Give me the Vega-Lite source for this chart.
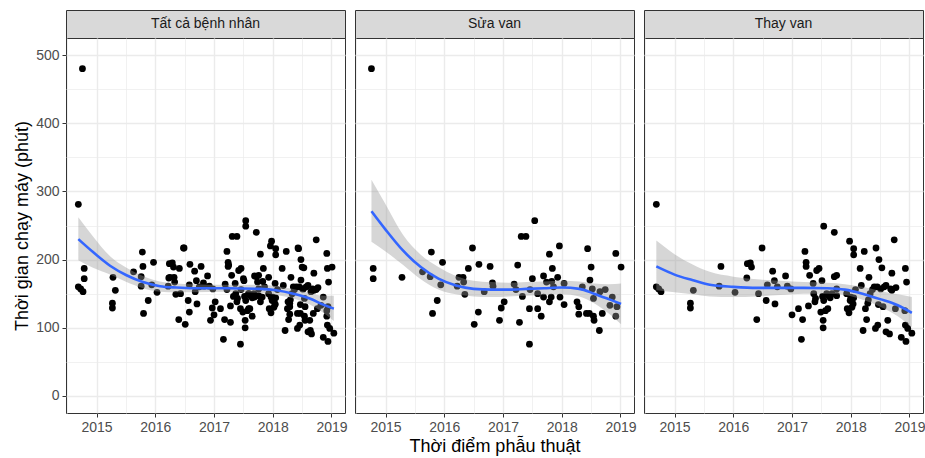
{
"$schema": "https://vega.github.io/schema/vega-lite/v6.json",
"padding": {"left": 13, "top": 9, "right": 0, "bottom": 0},
"background": "white",
"spacing": 6,
"config": {
  "font": "Liberation Sans",
  "view": {"stroke": "#333333", "strokeWidth": 1},
  "axis": {"gridColor": "#EBEBEB", "domain": false, "tickColor": "#333333", "labelColor": "#4D4D4D", "labelFontSize": 14, "titleFontSize": 18, "titleFontWeight": "normal", "titleColor": "#000000", "tickSize": 4, "labelPadding": 3, "labelFlush": false, "labelOverlap": false}
},
"datasets": {
  "pts": [
    {"t":2014.76,"phut":480,"nhom":"Sửa van"},{"t":2014.79,"phut":187,"nhom":"Sửa van"},{"t":2014.79,"phut":172,"nhom":"Sửa van"},{"t":2015.28,"phut":174,"nhom":"Sửa van"},{"t":2015.63,"phut":182,"nhom":"Sửa van"},{"t":2015.76,"phut":175,"nhom":"Sửa van"},{"t":2015.78,"phut":211,"nhom":"Sửa van"},{"t":2015.80,"phut":121,"nhom":"Sửa van"},{"t":2015.88,"phut":140,"nhom":"Sửa van"},{"t":2015.94,"phut":163,"nhom":"Sửa van"},{"t":2015.97,"phut":196,"nhom":"Sửa van"},{"t":2016.22,"phut":161,"nhom":"Sửa van"},{"t":2016.25,"phut":174,"nhom":"Sửa van"},{"t":2016.32,"phut":174,"nhom":"Sửa van"},{"t":2016.33,"phut":167,"nhom":"Sửa van"},{"t":2016.35,"phut":149,"nhom":"Sửa van"},{"t":2016.41,"phut":187,"nhom":"Sửa van"},{"t":2016.48,"phut":217,"nhom":"Sửa van"},{"t":2016.51,"phut":105,"nhom":"Sửa van"},{"t":2016.58,"phut":123,"nhom":"Sửa van"},{"t":2016.59,"phut":193,"nhom":"Sửa van"},{"t":2016.68,"phut":153,"nhom":"Sửa van"},{"t":2016.78,"phut":190,"nhom":"Sửa van"},{"t":2016.82,"phut":166,"nhom":"Sửa van"},{"t":2016.83,"phut":161,"nhom":"Sửa van"},{"t":2016.94,"phut":111,"nhom":"Sửa van"},{"t":2016.97,"phut":129,"nhom":"Sửa van"},{"t":2017.02,"phut":138,"nhom":"Sửa van"},{"t":2017.19,"phut":164,"nhom":"Sửa van"},{"t":2017.22,"phut":156,"nhom":"Sửa van"},{"t":2017.25,"phut":192,"nhom":"Sửa van"},{"t":2017.28,"phut":108,"nhom":"Sửa van"},{"t":2017.31,"phut":234,"nhom":"Sửa van"},{"t":2017.39,"phut":234,"nhom":"Sửa van"},{"t":2017.33,"phut":146,"nhom":"Sửa van"},{"t":2017.45,"phut":128,"nhom":"Sửa van"},{"t":2017.45,"phut":76,"nhom":"Sửa van"},{"t":2017.46,"phut":156,"nhom":"Sửa van"},{"t":2017.50,"phut":172,"nhom":"Sửa van"},{"t":2017.54,"phut":257,"nhom":"Sửa van"},{"t":2017.59,"phut":150,"nhom":"Sửa van"},{"t":2017.59,"phut":128,"nhom":"Sửa van"},{"t":2017.65,"phut":117,"nhom":"Sửa van"},{"t":2017.69,"phut":176,"nhom":"Sửa van"},{"t":2017.69,"phut":145,"nhom":"Sửa van"},{"t":2017.74,"phut":167,"nhom":"Sửa van"},{"t":2017.79,"phut":208,"nhom":"Sửa van"},{"t":2017.79,"phut":138,"nhom":"Sửa van"},{"t":2017.82,"phut":145,"nhom":"Sửa van"},{"t":2017.83,"phut":168,"nhom":"Sửa van"},{"t":2017.84,"phut":187,"nhom":"Sửa van"},{"t":2017.86,"phut":160,"nhom":"Sửa van"},{"t":2017.93,"phut":174,"nhom":"Sửa van"},{"t":2017.96,"phut":220,"nhom":"Sửa van"},{"t":2017.97,"phut":145,"nhom":"Sửa van"},{"t":2018.04,"phut":165,"nhom":"Sửa van"},{"t":2018.04,"phut":134,"nhom":"Sửa van"},{"t":2018.26,"phut":138,"nhom":"Sửa van"},{"t":2018.29,"phut":131,"nhom":"Sửa van"},{"t":2018.29,"phut":120,"nhom":"Sửa van"},{"t":2018.35,"phut":160,"nhom":"Sửa van"},{"t":2018.44,"phut":216,"nhom":"Sửa van"},{"t":2018.42,"phut":121,"nhom":"Sửa van"},{"t":2018.47,"phut":121,"nhom":"Sửa van"},{"t":2018.48,"phut":170,"nhom":"Sửa van"},{"t":2018.50,"phut":189,"nhom":"Sửa van"},{"t":2018.52,"phut":157,"nhom":"Sửa van"},{"t":2018.54,"phut":117,"nhom":"Sửa van"},{"t":2018.55,"phut":111,"nhom":"Sửa van"},{"t":2018.54,"phut":143,"nhom":"Sửa van"},{"t":2018.64,"phut":96,"nhom":"Sửa van"},{"t":2018.65,"phut":153,"nhom":"Sửa van"},{"t":2018.69,"phut":121,"nhom":"Sửa van"},{"t":2018.74,"phut":156,"nhom":"Sửa van"},{"t":2018.82,"phut":133,"nhom":"Sửa van"},{"t":2018.86,"phut":145,"nhom":"Sửa van"},{"t":2018.92,"phut":209,"nhom":"Sửa van"},{"t":2018.92,"phut":117,"nhom":"Sửa van"},{"t":2018.94,"phut":131,"nhom":"Sửa van"},{"t":2019.01,"phut":189,"nhom":"Sửa van"},
    {"t":2014.69,"phut":281,"nhom":"Thay van"},{"t":2014.69,"phut":160,"nhom":"Thay van"},{"t":2014.73,"phut":157,"nhom":"Thay van"},{"t":2014.77,"phut":153,"nhom":"Thay van"},{"t":2015.27,"phut":136,"nhom":"Thay van"},{"t":2015.27,"phut":129,"nhom":"Thay van"},{"t":2015.32,"phut":155,"nhom":"Thay van"},{"t":2015.76,"phut":161,"nhom":"Thay van"},{"t":2015.79,"phut":190,"nhom":"Thay van"},{"t":2016.03,"phut":152,"nhom":"Thay van"},{"t":2016.23,"phut":173,"nhom":"Thay van"},{"t":2016.24,"phut":194,"nhom":"Thay van"},{"t":2016.29,"phut":195,"nhom":"Thay van"},{"t":2016.31,"phut":189,"nhom":"Thay van"},{"t":2016.40,"phut":112,"nhom":"Thay van"},{"t":2016.43,"phut":150,"nhom":"Thay van"},{"t":2016.49,"phut":217,"nhom":"Thay van"},{"t":2016.56,"phut":140,"nhom":"Thay van"},{"t":2016.58,"phut":163,"nhom":"Thay van"},{"t":2016.67,"phut":183,"nhom":"Thay van"},{"t":2016.70,"phut":169,"nhom":"Thay van"},{"t":2016.71,"phut":135,"nhom":"Thay van"},{"t":2016.75,"phut":160,"nhom":"Thay van"},{"t":2016.89,"phut":176,"nhom":"Thay van"},{"t":2016.92,"phut":161,"nhom":"Thay van"},{"t":2016.98,"phut":157,"nhom":"Thay van"},{"t":2017.00,"phut":119,"nhom":"Thay van"},{"t":2017.11,"phut":128,"nhom":"Thay van"},{"t":2017.16,"phut":83,"nhom":"Thay van"},{"t":2017.18,"phut":112,"nhom":"Thay van"},{"t":2017.22,"phut":212,"nhom":"Thay van"},{"t":2017.24,"phut":196,"nhom":"Thay van"},{"t":2017.24,"phut":190,"nhom":"Thay van"},{"t":2017.28,"phut":132,"nhom":"Thay van"},{"t":2017.30,"phut":177,"nhom":"Thay van"},{"t":2017.36,"phut":165,"nhom":"Thay van"},{"t":2017.37,"phut":150,"nhom":"Thay van"},{"t":2017.39,"phut":138,"nhom":"Thay van"},{"t":2017.40,"phut":143,"nhom":"Thay van"},{"t":2017.42,"phut":184,"nhom":"Thay van"},{"t":2017.46,"phut":187,"nhom":"Thay van"},{"t":2017.49,"phut":123,"nhom":"Thay van"},{"t":2017.51,"phut":169,"nhom":"Thay van"},{"t":2017.52,"phut":146,"nhom":"Thay van"},{"t":2017.53,"phut":111,"nhom":"Thay van"},{"t":2017.53,"phut":100,"nhom":"Thay van"},{"t":2017.54,"phut":249,"nhom":"Thay van"},{"t":2017.54,"phut":140,"nhom":"Thay van"},{"t":2017.57,"phut":125,"nhom":"Thay van"},{"t":2017.59,"phut":150,"nhom":"Thay van"},{"t":2017.61,"phut":128,"nhom":"Thay van"},{"t":2017.62,"phut":147,"nhom":"Thay van"},{"t":2017.65,"phut":144,"nhom":"Thay van"},{"t":2017.68,"phut":150,"nhom":"Thay van"},{"t":2017.72,"phut":240,"nhom":"Thay van"},{"t":2017.72,"phut":175,"nhom":"Thay van"},{"t":2017.76,"phut":177,"nhom":"Thay van"},{"t":2017.76,"phut":157,"nhom":"Thay van"},{"t":2017.76,"phut":147,"nhom":"Thay van"},{"t":2017.93,"phut":150,"nhom":"Thay van"},{"t":2017.94,"phut":128,"nhom":"Thay van"},{"t":2017.97,"phut":122,"nhom":"Thay van"},{"t":2017.98,"phut":227,"nhom":"Thay van"},{"t":2017.99,"phut":140,"nhom":"Thay van"},{"t":2018.00,"phut":145,"nhom":"Thay van"},{"t":2018.02,"phut":130,"nhom":"Thay van"},{"t":2018.04,"phut":135,"nhom":"Thay van"},{"t":2018.05,"phut":216,"nhom":"Thay van"},{"t":2018.05,"phut":207,"nhom":"Thay van"},{"t":2018.05,"phut":144,"nhom":"Thay van"},{"t":2018.08,"phut":156,"nhom":"Thay van"},{"t":2018.16,"phut":187,"nhom":"Thay van"},{"t":2018.18,"phut":162,"nhom":"Thay van"},{"t":2018.21,"phut":96,"nhom":"Thay van"},{"t":2018.23,"phut":212,"nhom":"Thay van"},{"t":2018.25,"phut":128,"nhom":"Thay van"},{"t":2018.27,"phut":112,"nhom":"Thay van"},{"t":2018.29,"phut":136,"nhom":"Thay van"},{"t":2018.30,"phut":141,"nhom":"Thay van"},{"t":2018.31,"phut":174,"nhom":"Thay van"},{"t":2018.33,"phut":150,"nhom":"Thay van"},{"t":2018.37,"phut":156,"nhom":"Thay van"},{"t":2018.40,"phut":160,"nhom":"Thay van"},{"t":2018.43,"phut":217,"nhom":"Thay van"},{"t":2018.42,"phut":99,"nhom":"Thay van"},{"t":2018.45,"phut":160,"nhom":"Thay van"},{"t":2018.46,"phut":104,"nhom":"Thay van"},{"t":2018.47,"phut":134,"nhom":"Thay van"},{"t":2018.48,"phut":200,"nhom":"Thay van"},{"t":2018.51,"phut":157,"nhom":"Thay van"},{"t":2018.53,"phut":188,"nhom":"Thay van"},{"t":2018.55,"phut":131,"nhom":"Thay van"},{"t":2018.57,"phut":160,"nhom":"Thay van"},{"t":2018.60,"phut":162,"nhom":"Thay van"},{"t":2018.60,"phut":94,"nhom":"Thay van"},{"t":2018.63,"phut":111,"nhom":"Thay van"},{"t":2018.66,"phut":91,"nhom":"Thay van"},{"t":2018.68,"phut":157,"nhom":"Thay van"},{"t":2018.70,"phut":180,"nhom":"Thay van"},{"t":2018.70,"phut":155,"nhom":"Thay van"},{"t":2018.74,"phut":229,"nhom":"Thay van"},{"t":2018.76,"phut":128,"nhom":"Thay van"},{"t":2018.77,"phut":159,"nhom":"Thay van"},{"t":2018.86,"phut":86,"nhom":"Thay van"},{"t":2018.92,"phut":125,"nhom":"Thay van"},{"t":2018.93,"phut":187,"nhom":"Thay van"},{"t":2018.93,"phut":104,"nhom":"Thay van"},{"t":2018.94,"phut":80,"nhom":"Thay van"},{"t":2018.95,"phut":167,"nhom":"Thay van"},{"t":2018.97,"phut":99,"nhom":"Thay van"},{"t":2019.04,"phut":92,"nhom":"Thay van"}
  ],
  "smooth": [
    {"nhom":"Tất cả bệnh nhân","t":2014.69,"phut":230,"lo":199,"hi":262},{"nhom":"Tất cả bệnh nhân","t":2014.94,"phut":211,"lo":188,"hi":234},{"nhom":"Tất cả bệnh nhân","t":2015.23,"phut":191,"lo":178,"hi":205},{"nhom":"Tất cả bệnh nhân","t":2015.51,"phut":177,"lo":167,"hi":188},{"nhom":"Tất cả bệnh nhân","t":2015.79,"phut":167,"lo":158,"hi":176},{"nhom":"Tất cả bệnh nhân","t":2016.08,"phut":161,"lo":153,"hi":168},{"nhom":"Tất cả bệnh nhân","t":2016.36,"phut":159,"lo":152,"hi":165},{"nhom":"Tất cả bệnh nhân","t":2016.64,"phut":158,"lo":152,"hi":164},{"nhom":"Tất cả bệnh nhân","t":2017.21,"phut":158,"lo":153,"hi":163},{"nhom":"Tất cả bệnh nhân","t":2017.78,"phut":157,"lo":151,"hi":163},{"nhom":"Tất cả bệnh nhân","t":2018.06,"phut":155,"lo":148,"hi":161},{"nhom":"Tất cả bệnh nhân","t":2018.35,"phut":150,"lo":143,"hi":157},{"nhom":"Tất cả bệnh nhân","t":2018.63,"phut":143,"lo":134,"hi":151},{"nhom":"Tất cả bệnh nhân","t":2018.86,"phut":134,"lo":122,"hi":147},{"nhom":"Tất cả bệnh nhân","t":2019.04,"phut":128,"lo":110,"hi":147},
    {"nhom":"Sửa van","t":2014.76,"phut":271,"lo":226,"hi":317},{"nhom":"Sửa van","t":2015.0,"phut":244,"lo":212,"hi":281},{"nhom":"Sửa van","t":2015.3,"phut":213,"lo":192,"hi":236},{"nhom":"Sửa van","t":2015.6,"phut":189,"lo":171,"hi":207},{"nhom":"Sửa van","t":2015.9,"phut":172,"lo":156,"hi":189},{"nhom":"Sửa van","t":2016.2,"phut":162,"lo":149,"hi":176},{"nhom":"Sửa van","t":2016.5,"phut":157,"lo":146,"hi":169},{"nhom":"Sửa van","t":2016.8,"phut":156,"lo":145,"hi":167},{"nhom":"Sửa van","t":2017.1,"phut":156,"lo":146,"hi":166},{"nhom":"Sửa van","t":2017.4,"phut":157,"lo":147,"hi":167},{"nhom":"Sửa van","t":2017.7,"phut":158,"lo":148,"hi":168},{"nhom":"Sửa van","t":2018.0,"phut":159,"lo":149,"hi":169},{"nhom":"Sửa van","t":2018.3,"phut":157,"lo":146,"hi":168},{"nhom":"Sửa van","t":2018.55,"phut":150,"lo":136,"hi":165},{"nhom":"Sửa van","t":2018.8,"phut":142,"lo":121,"hi":164},{"nhom":"Sửa van","t":2019.01,"phut":135,"lo":105,"hi":165},
    {"nhom":"Thay van","t":2014.69,"phut":190,"lo":155,"hi":228},{"nhom":"Thay van","t":2015.0,"phut":178,"lo":152,"hi":208},{"nhom":"Thay van","t":2015.3,"phut":170,"lo":149,"hi":193},{"nhom":"Thay van","t":2015.6,"phut":163,"lo":146,"hi":182},{"nhom":"Thay van","t":2016.0,"phut":160,"lo":145,"hi":175},{"nhom":"Thay van","t":2016.4,"phut":158.5,"lo":146,"hi":171},{"nhom":"Thay van","t":2016.8,"phut":158.5,"lo":148,"hi":169},{"nhom":"Thay van","t":2017.2,"phut":158.5,"lo":150,"hi":167},{"nhom":"Thay van","t":2017.6,"phut":158,"lo":150,"hi":166},{"nhom":"Thay van","t":2017.9,"phut":156,"lo":148,"hi":164},{"nhom":"Thay van","t":2018.2,"phut":150,"lo":141,"hi":160},{"nhom":"Thay van","t":2018.5,"phut":142,"lo":131,"hi":154},{"nhom":"Thay van","t":2018.8,"phut":133,"lo":117,"hi":149},{"nhom":"Thay van","t":2019.04,"phut":122,"lo":101,"hi":145}
  ]
},
"hconcat": [
  {"bounds": "flush", "spacing": 0, "vconcat": [
    {"width": 279, "height": 28, "view": {"fill": "#D9D9D9", "stroke": "#333333"},
     "data": {"values": [{"nhan": "Tất cả bệnh nhân"}]},
     "mark": {"type": "text", "fontSize": 14, "color": "#1A1A1A"},
     "encoding": {"text": {"field": "nhan"}}},
    {"width": 279, "height": 375,
     "encoding": {
       "x": {"field": "t", "type": "quantitative", "scale": {"domain": [2014.48, 2019.23], "nice": false, "zero": false},
             "axis": {"title": null, "values": [2014.5,2015,2015.5,2016,2016.5,2017,2017.5,2018,2018.5,2019], "labelExpr": "datum.value % 1 == 0 ? '' + datum.value : ''", "tickOpacity": {"condition": {"test": "datum.value % 1 != 0", "value": 0}, "value": 1}, "gridWidth": {"condition": {"test": "datum.value % 1 != 0", "value": 0.7}, "value": 1.4}}},
       "y": {"field": "phut", "type": "quantitative", "scale": {"domain": [-25, 525], "nice": false, "zero": false},
             "axis": {"title": "Thời gian chạy máy (phút)", "titlePadding": 4, "values": [0,50,100,150,200,250,300,350,400,450,500], "labelExpr": "datum.value % 100 == 0 ? datum.label : ''", "tickOpacity": {"condition": {"test": "datum.value % 100 != 0", "value": 0}, "value": 1}, "gridWidth": {"condition": {"test": "datum.value % 100 != 0", "value": 0.7}, "value": 1.4}}}
     },
     "layer": [
       {"data": {"name": "pts"}, "mark": {"type": "circle", "size": 46, "color": "#000000", "opacity": 1}},
       {"data": {"name": "smooth"}, "transform": [{"filter": "datum.nhom == 'Tất cả bệnh nhân'"}], "mark": {"type": "area", "color": "#999999", "opacity": 0.4, "interpolate": "monotone"},
        "encoding": {"y": {"field": "lo", "type": "quantitative", "title": "Thời gian chạy máy (phút)"}, "y2": {"field": "hi"}}},
       {"data": {"name": "smooth"}, "transform": [{"filter": "datum.nhom == 'Tất cả bệnh nhân'"}], "mark": {"type": "line", "color": "#3366FF", "strokeWidth": 2.6, "interpolate": "monotone"}}
     ]}
  ]},
  {"bounds": "flush", "spacing": 0, "vconcat": [
    {"width": 279, "height": 28, "view": {"fill": "#D9D9D9", "stroke": "#333333"},
     "data": {"values": [{"nhan": "Sửa van"}]},
     "mark": {"type": "text", "fontSize": 14, "color": "#1A1A1A"},
     "encoding": {"text": {"field": "nhan"}}},
    {"width": 279, "height": 375,
     "encoding": {
       "x": {"field": "t", "type": "quantitative", "scale": {"domain": [2014.48, 2019.23], "nice": false, "zero": false},
             "axis": {"title": "Thời điểm phẫu thuật", "titlePadding": 3, "values": [2014.5,2015,2015.5,2016,2016.5,2017,2017.5,2018,2018.5,2019], "labelExpr": "datum.value % 1 == 0 ? '' + datum.value : ''", "tickOpacity": {"condition": {"test": "datum.value % 1 != 0", "value": 0}, "value": 1}, "gridWidth": {"condition": {"test": "datum.value % 1 != 0", "value": 0.7}, "value": 1.4}}},
       "y": {"field": "phut", "type": "quantitative", "scale": {"domain": [-25, 525], "nice": false, "zero": false},
             "axis": {"title": null, "labels": false, "ticks": false, "values": [0,50,100,150,200,250,300,350,400,450,500], "gridWidth": {"condition": {"test": "datum.value % 100 != 0", "value": 0.7}, "value": 1.4}}}
     },
     "layer": [
       {"data": {"name": "pts"}, "transform": [{"filter": "datum.nhom == 'Sửa van'"}], "mark": {"type": "circle", "size": 46, "color": "#000000", "opacity": 1}},
       {"data": {"name": "smooth"}, "transform": [{"filter": "datum.nhom == 'Sửa van'"}], "mark": {"type": "area", "color": "#999999", "opacity": 0.4, "interpolate": "monotone"},
        "encoding": {"y": {"field": "lo", "type": "quantitative", "title": null}, "y2": {"field": "hi"}}},
       {"data": {"name": "smooth"}, "transform": [{"filter": "datum.nhom == 'Sửa van'"}], "mark": {"type": "line", "color": "#3366FF", "strokeWidth": 2.6, "interpolate": "monotone"}}
     ]}
  ]},
  {"bounds": "flush", "spacing": 0, "vconcat": [
    {"width": 279, "height": 28, "view": {"fill": "#D9D9D9", "stroke": "#333333"},
     "data": {"values": [{"nhan": "Thay van"}]},
     "mark": {"type": "text", "fontSize": 14, "color": "#1A1A1A"},
     "encoding": {"text": {"field": "nhan"}}},
    {"width": 279, "height": 375,
     "encoding": {
       "x": {"field": "t", "type": "quantitative", "scale": {"domain": [2014.48, 2019.23], "nice": false, "zero": false},
             "axis": {"title": null, "values": [2014.5,2015,2015.5,2016,2016.5,2017,2017.5,2018,2018.5,2019], "labelExpr": "datum.value % 1 == 0 ? '' + datum.value : ''", "tickOpacity": {"condition": {"test": "datum.value % 1 != 0", "value": 0}, "value": 1}, "gridWidth": {"condition": {"test": "datum.value % 1 != 0", "value": 0.7}, "value": 1.4}}},
       "y": {"field": "phut", "type": "quantitative", "scale": {"domain": [-25, 525], "nice": false, "zero": false},
             "axis": {"title": null, "labels": false, "ticks": false, "values": [0,50,100,150,200,250,300,350,400,450,500], "gridWidth": {"condition": {"test": "datum.value % 100 != 0", "value": 0.7}, "value": 1.4}}}
     },
     "layer": [
       {"data": {"name": "pts"}, "transform": [{"filter": "datum.nhom == 'Thay van'"}], "mark": {"type": "circle", "size": 46, "color": "#000000", "opacity": 1}},
       {"data": {"name": "smooth"}, "transform": [{"filter": "datum.nhom == 'Thay van'"}], "mark": {"type": "area", "color": "#999999", "opacity": 0.4, "interpolate": "monotone"},
        "encoding": {"y": {"field": "lo", "type": "quantitative", "title": null}, "y2": {"field": "hi"}}},
       {"data": {"name": "smooth"}, "transform": [{"filter": "datum.nhom == 'Thay van'"}], "mark": {"type": "line", "color": "#3366FF", "strokeWidth": 2.6, "interpolate": "monotone"}}
     ]}
  ]}
]
}
